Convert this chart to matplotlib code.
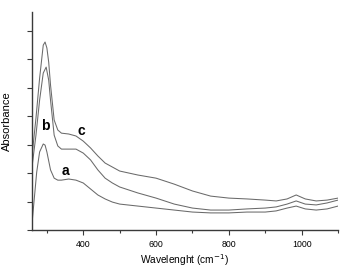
import matplotlib
matplotlib.use("Agg")
import matplotlib.pyplot as plt
from matplotlib.ticker import MultipleLocator

plt.rcParams['font.family'] = ['Liberation Sans', 'DejaVu Sans']

# wavenumber (cm-1) and absorbance (arb. units)
wave_a = [258, 265, 272, 280, 290, 295, 300, 310, 320, 330, 340, 360, 380, 400,
          420, 440, 460, 480, 500, 550, 600, 650, 700, 750, 800, 850, 900, 930,
          960, 985, 1010, 1040, 1070, 1100]
abs_a = [0.07, 1.05, 2.03, 2.74, 3.02, 2.98, 2.74, 2.11, 1.82, 1.75, 1.75, 1.79,
         1.75, 1.65, 1.44, 1.23, 1.09, 0.98, 0.91, 0.84, 0.77, 0.70, 0.63, 0.60,
         0.60, 0.63, 0.63, 0.67, 0.77, 0.84, 0.74, 0.70, 0.74, 0.84]

wave_b = [258, 270, 280, 290, 298, 305, 310, 320, 330, 340, 360, 380, 400, 420,
          440, 460, 480, 500, 550, 600, 650, 700, 750, 800, 850, 900, 930, 960,
          985, 1010, 1040, 1070, 1100]
abs_b = [2.10, 3.33, 4.56, 5.51, 5.72, 5.26, 4.56, 3.33, 2.95, 2.84, 2.84, 2.84,
         2.70, 2.46, 2.11, 1.82, 1.65, 1.51, 1.30, 1.12, 0.91, 0.77, 0.70, 0.70,
         0.74, 0.77, 0.81, 0.91, 1.02, 0.91, 0.88, 0.95, 1.05]

wave_c = [258, 270, 280, 290, 295, 300, 305, 310, 320, 330, 340, 360, 380, 400,
          420, 440, 460, 480, 500, 550, 600, 650, 700, 750, 800, 850, 900, 930,
          960, 985, 1010, 1040, 1070, 1100]
abs_c = [2.46, 3.93, 5.33, 6.49, 6.60, 6.39, 5.89, 5.09, 3.86, 3.51, 3.40, 3.37,
         3.30, 3.12, 2.88, 2.60, 2.35, 2.21, 2.07, 1.93, 1.82, 1.61, 1.37, 1.19,
         1.12, 1.09, 1.05, 1.02, 1.09, 1.23, 1.09, 1.02, 1.05, 1.12]

line_color = '#6a6a6a'
axis_color = '#3a3a3a'

fig = plt.figure(figsize=(3.42, 2.69), dpi=100)
ax = fig.add_axes([0.0924, 0.145, 0.896, 0.810])

for w, a in [(wave_a, abs_a), (wave_b, abs_b), (wave_c, abs_c)]:
    ax.plot(w, a, color=line_color, lw=0.75)

ax.text(297, 3.65, 'b', fontsize=10, fontweight='bold', ha='center', va='center')
ax.text(394, 3.47, 'c', fontsize=10, fontweight='bold', ha='center', va='center')
ax.text(352, 2.07, 'a', fontsize=10, fontweight='bold', ha='center', va='center')

ax.set_xlim(258, 1100)
ax.set_ylim(0, 7.65)
ax.xaxis.set_minor_locator(MultipleLocator(100))
ax.set_xticks([400, 600, 800, 1000])
ax.yaxis.set_major_locator(MultipleLocator(1))
ax.set_yticklabels([])

for side in ['top', 'right']:
    ax.spines[side].set_visible(False)
for side in ['left', 'bottom']:
    ax.spines[side].set_color(axis_color)
    ax.spines[side].set_linewidth(1.0)

ax.tick_params(axis='both', which='both', direction='out', color=axis_color,
               width=0.8, labelsize=6.3)
ax.tick_params(axis='x', which='major', length=3.5, pad=4)
ax.tick_params(axis='x', which='minor', length=2.5)
ax.tick_params(axis='y', which='major', length=3.5)

ax.set_xlabel('Wavelenght (cm$^{-1}$)', fontsize=7.3, labelpad=2)
ax.set_ylabel('Absorbance', fontsize=8, labelpad=7)

fig.savefig('out.png', dpi=100)
